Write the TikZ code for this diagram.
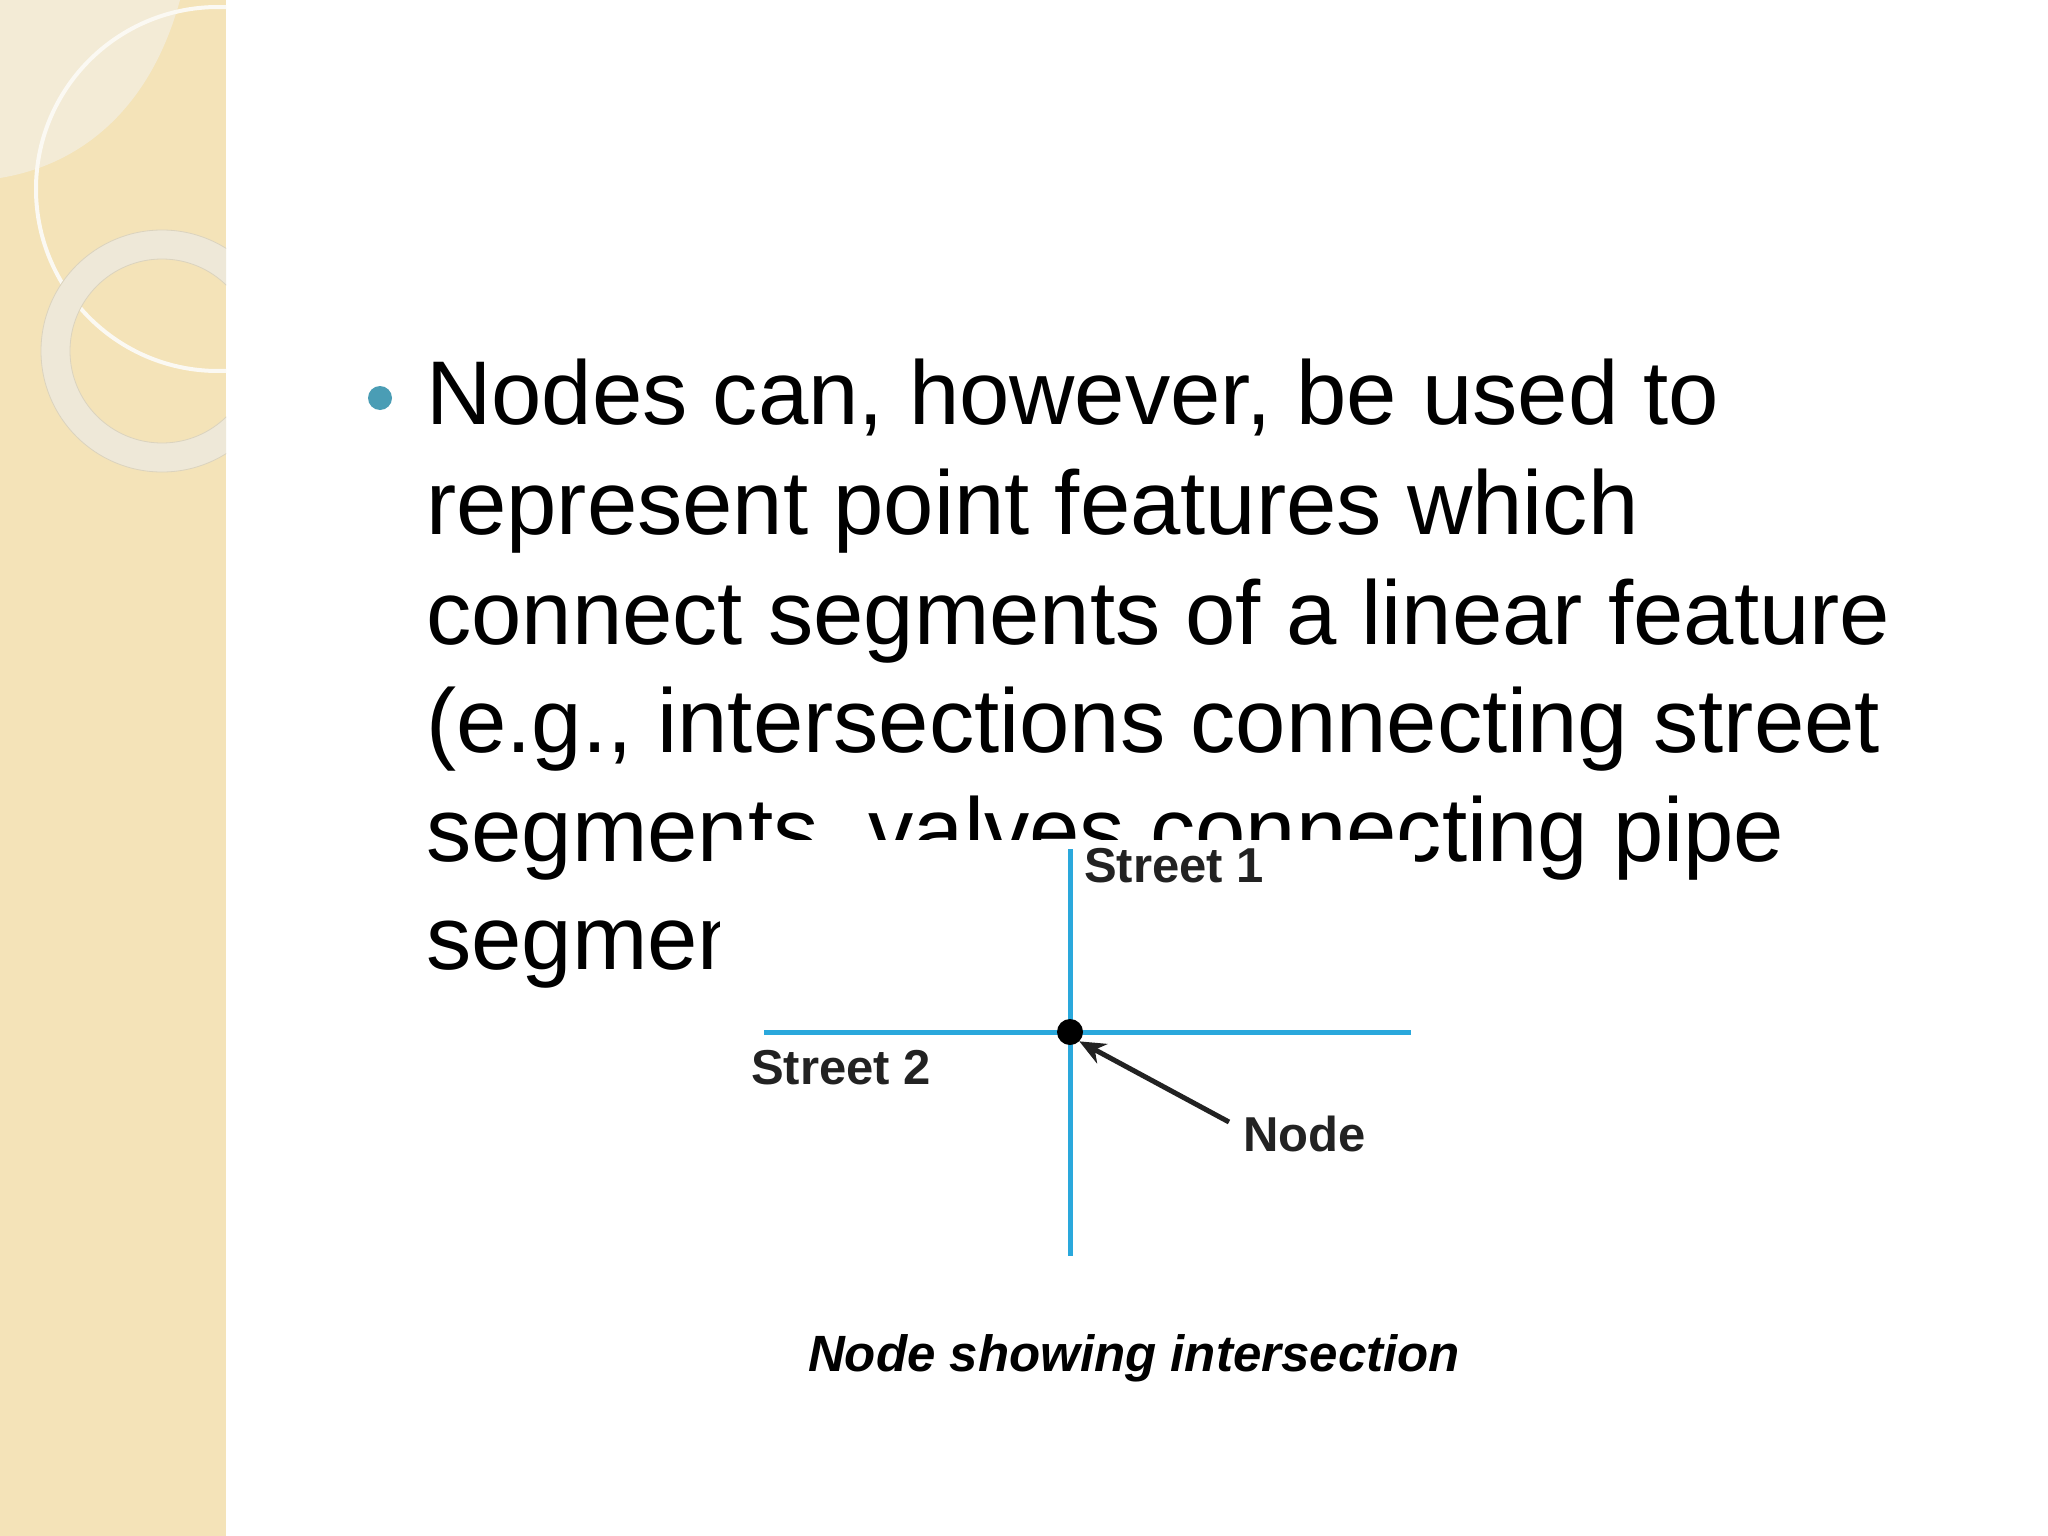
\documentclass[tikz,border=0pt]{standalone}
\usepackage{fontspec}
\usetikzlibrary{arrows.meta}
\setmainfont{Liberation Sans}
\definecolor{strip}{HTML}{F4E3B8}
\definecolor{lens}{HTML}{F3EBD6}
\definecolor{ringc}{HTML}{EEE8D8}
\definecolor{bul}{HTML}{4A9DB5}
\definecolor{street}{HTML}{2AA8DC}
\definecolor{lbl}{HTML}{222222}
\tikzset{body/.style={anchor=base west,inner sep=0pt,font=\fontsize{90.5}{110}\selectfont},
 slabel/.style={font=\fontsize{49}{56}\selectfont\bfseries,text=lbl,inner sep=0pt},
 road/.style={street,line width=5pt}}
\begin{document}
\begin{tikzpicture}[x=1pt,y=-1pt]
\useasboundingbox (0,0) rectangle (2048,1536);
\fill[white] (0,0) rectangle (2048,1536);
\begin{scope}
\clip (0,0) rectangle (226,1536);
\fill[strip] (0,0) rectangle (226,1536);
\fill[lens] (0,0) -- (180,0) .. controls (150,110) and (80,165) .. (0,178) -- cycle;
\draw[white!70!lens,line width=4pt] (218,189) circle (182);
\fill[ringc,even odd rule,draw=strip!80!black!60,line width=0.8pt] (162,351) circle (121) (162,351) circle (92);
\end{scope}
\fill[bul] (380,398) circle (12);
\node[body] (l1) at (426,424) {Nodes can, however, be used to};
\node[body] (l2) at (426,534) {represent point features which};
\node[body] (l3) at (426,644) {connect segments of a linear feature};
\node[body] (l4) at (426,752) {(e.g., intersections connecting street};
\node[body] (l5) at (426,861) {segments, valves connecting pipe};
\node[body] (l6) at (426,969) {segments).};
\fill[white] (720,840) rectangle (1415,1300);
\coordinate (vt) at (1070,849);
\coordinate (vb) at (1070,1256);
\coordinate (hl) at (764,1032);
\coordinate (hr) at (1411,1032);
\draw[road] (vt) -- (vb);
\draw[road] (hl) -- (hr);
\node[circle,fill=black,minimum size=26pt,inner sep=0pt] (n) at (1070,1032) {};
\node[slabel,anchor=west] (s1) at (1084,866) {Street 1};
\node[slabel,anchor=west] (s2) at (751,1068) {Street 2};
\node[slabel,anchor=west] (nl) at (1243,1134) {Node};
\draw[lbl,line width=5pt,-{Stealth[length=26pt,width=22pt]}] (nl.west)+(-14,-12) -- (n.south east);
\node[font=\fontsize{51}{60}\selectfont\bfseries\itshape,inner sep=0pt] (cap) at (1134,1358) {Node showing intersection};
\end{tikzpicture}
\end{document}
